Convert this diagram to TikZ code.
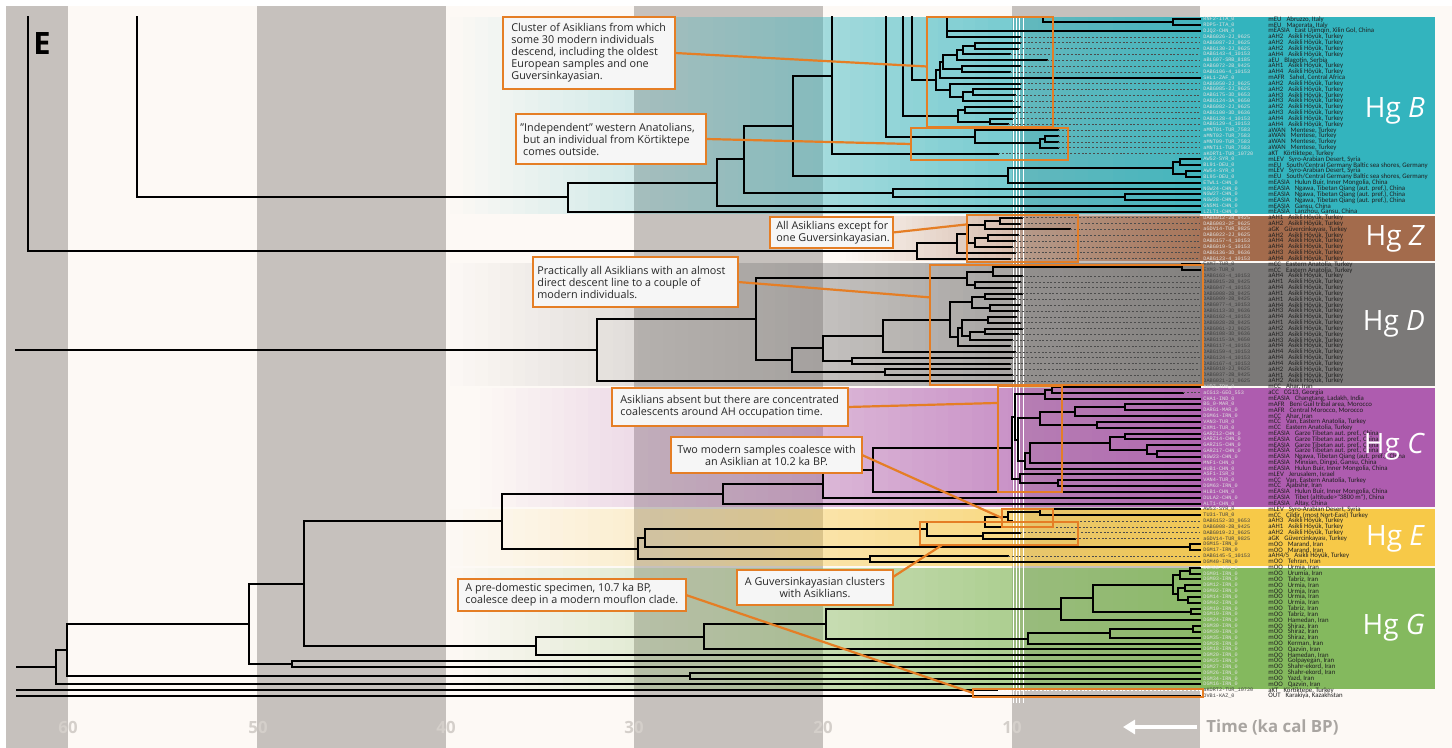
\documentclass[tikz,border=0pt]{standalone}
\usepackage{fontspec}
\setmainfont{Open Sans}
\newfontfamily\labfont{Carlito}
\newfontfamily\idfont{Liberation Mono}
\usetikzlibrary{calc,arrows.meta}

\definecolor{paper}{HTML}{FDF9F5}
\definecolor{stripe}{HTML}{C6C1BD}
\definecolor{bandB}{HTML}{33B4BE}
\definecolor{bandZ}{HTML}{A36B4C}
\definecolor{bandD}{HTML}{7B7978}
\definecolor{bandC}{HTML}{AE5CAF}
\definecolor{bandE}{HTML}{F7C948}
\definecolor{bandG}{HTML}{84B95E}
\definecolor{callorange}{HTML}{E57E25}
\definecolor{callfill}{HTML}{F6F6F6}
\definecolor{axisgray}{HTML}{A9A5A1}
\definecolor{ticklight}{HTML}{D4CFCA}

% a haplogroup band: translucent ramp from x=#2 to the tip line, solid behind the labels
\newcommand\bandfill[4]{%
  \pgfmathsetmacro\bstep{(1200-#2)/60}%
  \foreach \bi in {0,...,59}{%
    \pgfmathsetmacro\bxa{#2+\bstep*\bi}%
    \pgfmathsetmacro\bxb{#2+\bstep*(\bi+1)}%
    \pgfmathsetmacro\bop{(\bi+0.5)/60*0.88}%
    \fill[#1, fill opacity=\bop] (\bxa,#3) rectangle (\bxb,#4);}%
  \fill[#1] (1200,#3) rectangle (1435,#4);}

% branch helpers (x in px, second argument is the row)
\newcommand\vbr[3]{\draw[br] (#1,#2) -- (#1,#3);}
\newcommand\hbr[3]{\draw[br] (#1,#2) -- (#3,#2);}
\newcommand\modtip[2]{\draw[br] (#1,#2) -- (1200,#2);}
\newcommand\anctip[3]{\draw[br] (#1,#2) -- (#3,#2);\draw[dt] (#3,#2) -- (1200,#2);}
\newcommand\AHloc{Asikli Höyük, Turkey}

\tikzset{
  br/.style={line width=1pt, line cap=rect, black},
  dt/.style={line width=0.45pt, black!70, dash pattern=on 1pt off 0.9pt},
  dtw/.style={line width=0.6pt, white, dash pattern=on 1pt off 0.9pt},
  idl/.style={anchor=west, inner sep=0pt, font=\idfont\fontsize{2.6}{2.9}\selectfont},
  locl/.style={anchor=west, inner sep=0pt, text=black!88, font=\labfont\fontsize{3.4}{3.6}\selectfont},
  hglab/.style={anchor=east, text=white, font=\fontsize{14}{16}\selectfont},
  clbox/.style={draw=callorange, line width=1.1pt, inner sep=0pt, outer sep=0pt},
  callout/.style={draw=callorange, line width=1.1pt, fill=callfill, inner sep=0pt, outer sep=0pt},
  calltext/.style={inner sep=0pt, text=black!85, font=\fontsize{5.4}{6}\selectfont},
  link/.style={callorange, line width=1.1pt},
  tick/.style={text=ticklight, font=\bfseries\fontsize{8.4}{10}\selectfont},
}

\begin{document}
\begin{tikzpicture}[x=0.5pt,y=-0.5pt]
\useasboundingbox (0,0) rectangle (1452,748);
\fill[white] (0,0) rectangle (1452,748);
\fill[paper] (6,6) rectangle (1452,748);

% time stripes (10 ka each)
\foreach \xa/\xb in {6/68,257/446,634/823,1012/1200}
  \fill[stripe] (\xa,6) rectangle (\xb,748);

% haplogroup bands
\bandfill{bandB}{450}{17}{214}
\bandfill{bandZ}{840}{216}{261}
\bandfill{bandD}{450}{263}{386}
\bandfill{bandC}{480}{388}{507.5}
\bandfill{bandE}{450}{509.5}{566}
\bandfill{bandG}{450}{568}{689}

% occupation-time markers
\foreach \wx in {1013.5,1016.5,1019.5,1023}
  \draw[white, line width=0.45pt] (\wx,17) -- (\wx,703);

\begin{scope}[yshift=-9.75pt, y=-2.9165pt]
% ---------------- Hg B ----------------
\vbr{1173}{0}{1}\modtip{1173}{0}\modtip{1173}{1}
\draw[br] (1043,-0.43) |- (1173,0.5);
\vbr{947}{-0.43}{3}\modtip{947}{2}\anctip{947}{3}{1020}
\vbr{975}{4}{5}\anctip{975}{4}{1020}\anctip{975}{5}{1018}
\vbr{963}{4.5}{6}\hbr{963}{4.5}{975}\anctip{963}{6}{1010}
\vbr{957}{5.25}{7}\hbr{957}{5.25}{963}\anctip{957}{7}{1047}
\vbr{962}{8}{9}\anctip{962}{8}{1020}\anctip{962}{9}{1010}
\vbr{943}{6.125}{8.5}\hbr{943}{6.125}{957}\hbr{943}{8.5}{962}
\vbr{940}{7.31}{10}\hbr{940}{7.31}{943}\modtip{940}{10}
\vbr{973}{12}{13}\anctip{973}{12}{1020}\anctip{973}{13}{1015}
\vbr{963}{12.5}{14}\hbr{963}{12.5}{973}\anctip{963}{14}{1012}
\vbr{950}{11}{13.25}\anctip{950}{11}{1020}\hbr{950}{13.25}{963}
\vbr{936}{8.66}{12.125}\hbr{936}{8.66}{940}\hbr{936}{12.125}{950}
\vbr{912}{-0.43}{10.39}\hbr{912}{10.39}{936}
\vbr{965}{15}{16}\anctip{965}{15}{1020}\anctip{965}{16}{1015}
\vbr{990}{17}{18}\anctip{990}{17}{1012}\anctip{990}{18}{1008}
\vbr{958}{15.5}{17.5}\hbr{958}{15.5}{965}\hbr{958}{17.5}{990}
\vbr{903}{-0.43}{16.5}\hbr{903}{16.5}{958}
\vbr{1045}{20}{21}\anctip{1045}{20}{1058}\anctip{1045}{21}{1058}
\vbr{1040}{20.5}{22}\hbr{1040}{20.5}{1045}\anctip{1040}{22}{1058}
\vbr{975}{19}{21.25}\anctip{975}{19}{1058}\hbr{975}{21.25}{1040}
\vbr{886}{-0.43}{20.125}\hbr{886}{20.125}{975}
\vbr{832}{-0.43}{23}\anctip{832}{23}{998}
\vbr{1180}{24}{25}\modtip{1180}{24}\modtip{1180}{25}
\vbr{1186}{26}{27}\modtip{1186}{26}\modtip{1186}{27}
\vbr{1173}{24.5}{26.5}\hbr{1173}{24.5}{1180}\hbr{1173}{26.5}{1186}
\vbr{1008}{25.5}{28}\hbr{1008}{25.5}{1173}\modtip{1008}{28}
\vbr{793}{9.69}{26.75}\hbr{793}{9.69}{832}\hbr{793}{26.75}{1008}
\vbr{1125}{30}{31}\modtip{1125}{30}\modtip{1125}{31}
\vbr{893}{29}{30.5}\modtip{893}{29}\hbr{893}{30.5}{1125}
\vbr{744}{18.22}{29.75}\hbr{744}{18.22}{793}\hbr{744}{29.75}{893}
\vbr{717}{23.98}{32}\hbr{717}{23.98}{744}\modtip{717}{32}
\vbr{568}{27.99}{33}\hbr{568}{27.99}{717}\modtip{568}{33}
\vbr{137}{-0.43}{30.5}\hbr{137}{30.5}{568}
% ---------------- Hg Z ----------------
\vbr{1000}{34}{35}\anctip{1000}{34}{1022}\anctip{1000}{35}{1020}
\vbr{985}{34.5}{36}\hbr{985}{34.5}{1000}\anctip{985}{36}{1070}
\vbr{988}{37}{38}\anctip{988}{37}{1018}\anctip{988}{38}{1015}
\vbr{975}{37.5}{39}\hbr{975}{37.5}{988}\anctip{975}{39}{1012}
\vbr{968}{35.25}{38.25}\hbr{968}{35.25}{985}\hbr{968}{38.25}{975}
\vbr{957}{36.75}{40}\hbr{957}{36.75}{968}\anctip{957}{40}{1015}
\vbr{917}{38.375}{41}\hbr{917}{38.375}{957}\anctip{917}{41}{1010}
\vbr{28}{-0.43}{39.69}\hbr{28}{39.69}{917}
% ---------------- Hg D ----------------
\vbr{1182}{42}{43}\modtip{1182}{42}\modtip{1182}{43}
\vbr{993}{42.5}{44}\hbr{993}{42.5}{1182}\anctip{993}{44}{1022}
\vbr{975}{45}{46}\anctip{975}{45}{1020}\anctip{975}{46}{1016}
\vbr{967}{43.25}{45.5}\hbr{967}{43.25}{993}\hbr{967}{45.5}{975}
\vbr{985}{47}{48}\anctip{985}{47}{1022}\anctip{985}{48}{1015}
\vbr{990}{49}{50}\anctip{990}{49}{1020}\anctip{990}{50}{1018}
\vbr{972}{47.5}{49.5}\hbr{972}{47.5}{985}\hbr{972}{49.5}{990}
\vbr{988}{51}{52}\anctip{988}{51}{1016}\anctip{988}{52}{1020}
\vbr{985}{53}{54}\anctip{985}{53}{1022}\anctip{985}{54}{1018}
\vbr{970}{53.5}{55}\hbr{970}{53.5}{985}\anctip{970}{55}{1012}
\vbr{962}{51.5}{54.25}\hbr{962}{51.5}{988}\hbr{962}{54.25}{970}
\vbr{958}{52.875}{56}\hbr{958}{52.875}{962}\anctip{958}{56}{1010}
\vbr{950}{48.5}{54.44}\hbr{950}{48.5}{972}\hbr{950}{54.44}{958}
\vbr{883}{51.47}{57}\hbr{883}{51.47}{950}\anctip{883}{57}{1015}
\vbr{852}{58}{59}\anctip{852}{58}{1012}\anctip{852}{59}{1010}
\vbr{823}{54.23}{58.5}\hbr{823}{54.23}{883}\hbr{823}{58.5}{852}
\vbr{885}{60}{61}\anctip{885}{60}{1010}\anctip{885}{61}{1012}
\vbr{792}{56.37}{60.5}\hbr{792}{56.37}{823}\hbr{792}{60.5}{885}
\vbr{756}{44.375}{58.43}\hbr{756}{44.375}{967}\hbr{756}{58.43}{792}
\vbr{597}{51.4}{62}\hbr{597}{51.4}{756}\anctip{597}{62}{1014}
\hbr{16}{56.7}{597}
% ---------------- Hg C ----------------
\vbr{1052}{63}{64}\modtip{1052}{63}\anctip{1052}{64}{1183}
\vbr{1045}{63.5}{65}\hbr{1045}{63.5}{1052}\modtip{1045}{65}
\vbr{1125}{66}{67}\modtip{1125}{66}\modtip{1125}{67}
\vbr{1075}{66.5}{68}\hbr{1075}{66.5}{1125}\modtip{1075}{68}
\vbr{1097}{69}{70}\modtip{1097}{69}\modtip{1097}{70}
\vbr{1040}{67.25}{69.5}\hbr{1040}{67.25}{1075}\hbr{1040}{69.5}{1097}
\vbr{1125}{71}{72}\modtip{1125}{71}\modtip{1125}{72}
\vbr{1157}{74}{75}\modtip{1157}{74}\modtip{1157}{75}
\vbr{1147}{73}{74.5}\modtip{1147}{73}\hbr{1147}{74.5}{1157}
\vbr{1110}{71.5}{73.75}\hbr{1110}{71.5}{1125}\hbr{1110}{73.75}{1147}
\vbr{1030}{72.625}{76}\hbr{1030}{72.625}{1110}\modtip{1030}{76}
\vbr{1025}{74.31}{77}\hbr{1025}{74.31}{1030}\modtip{1025}{77}
\vbr{1018}{68.375}{75.66}\hbr{1018}{68.375}{1040}\hbr{1018}{75.66}{1025}
\vbr{1015}{64.25}{72.02}\hbr{1015}{64.25}{1045}\hbr{1015}{72.02}{1018}
\vbr{1058}{79}{80}\modtip{1058}{79}\modtip{1058}{80}
\vbr{1020}{78}{79.5}\modtip{1020}{78}\hbr{1020}{79.5}{1058}
\vbr{1012}{68.13}{78.75}\hbr{1012}{68.13}{1015}\hbr{1012}{78.75}{1020}
\vbr{873}{73.44}{81}\hbr{873}{73.44}{1012}\modtip{873}{81}
\vbr{823}{77.22}{82}\hbr{823}{77.22}{873}\modtip{823}{82}
\vbr{723}{79.61}{83}\hbr{723}{79.61}{823}\modtip{723}{83}
% ---------------- Hg E ----------------
\vbr{1040}{84}{85}\modtip{1040}{84}\modtip{1040}{85}
\vbr{1008}{84.5}{86}\hbr{1008}{84.5}{1040}\anctip{1008}{86}{1012}
\vbr{985}{85.25}{87}\hbr{985}{85.25}{1008}\anctip{985}{87}{1018}
\vbr{983}{88}{89}\anctip{983}{88}{1020}\anctip{983}{89}{1075}
\vbr{927}{86.125}{88.5}\hbr{927}{86.125}{985}\hbr{927}{88.5}{983}
\vbr{1190}{90}{91}\modtip{1190}{90}\modtip{1190}{91}
\vbr{645}{87.31}{90.5}\hbr{645}{87.31}{927}\hbr{645}{90.5}{1190}
\vbr{870}{92}{93}\anctip{870}{92}{1008}\modtip{870}{93}
\vbr{638}{88.9}{92.5}\hbr{638}{88.9}{645}\hbr{638}{92.5}{870}
\vbr{502}{81.3}{90.7}\hbr{502}{81.3}{723}\hbr{502}{90.7}{638}
% ---------------- Hg G ----------------
\vbr{1190}{94}{95}\modtip{1190}{94}\modtip{1190}{95}
\vbr{1180}{94.5}{96}\hbr{1180}{94.5}{1190}\modtip{1180}{96}
\vbr{1185}{97}{98}\modtip{1185}{97}\modtip{1185}{98}
\vbr{1188}{99}{100}\modtip{1188}{99}\modtip{1188}{100}
\vbr{1178}{97.5}{99.5}\hbr{1178}{97.5}{1185}\hbr{1178}{99.5}{1188}
\vbr{1173}{95.25}{98.5}\hbr{1173}{95.25}{1180}\hbr{1173}{98.5}{1178}
\vbr{1191}{101}{102}\modtip{1191}{101}\modtip{1191}{102}
\vbr{1093}{96.875}{101.5}\hbr{1093}{96.875}{1173}\hbr{1093}{101.5}{1191}
\vbr{1061}{99.19}{103}\hbr{1061}{99.19}{1093}\modtip{1061}{103}
\vbr{1193}{104}{105}\modtip{1193}{104}\modtip{1193}{105}
\vbr{1110}{104.5}{106}\hbr{1110}{104.5}{1193}\modtip{1110}{106}
\vbr{1028}{105.25}{107}\hbr{1028}{105.25}{1110}\modtip{1028}{107}
\vbr{826}{101.09}{106.125}\hbr{826}{101.09}{1061}\hbr{826}{106.125}{1028}
\vbr{704}{103.6}{108}\hbr{704}{103.6}{826}\modtip{704}{108}
\vbr{536}{105.8}{109}\hbr{536}{105.8}{704}\modtip{536}{109}
\vbr{304}{86}{107.4}\hbr{304}{86}{502}\hbr{304}{107.4}{536}
\vbr{292}{110}{111}\modtip{292}{110}\modtip{292}{111}
\vbr{249}{96.7}{110.5}\hbr{249}{96.7}{304}\hbr{249}{110.5}{292}
\vbr{690}{112}{113}\modtip{690}{112}\modtip{690}{113}
\vbr{67}{103.6}{112.5}\hbr{67}{103.6}{249}\hbr{67}{112.5}{690}
\vbr{56}{108.05}{114}\hbr{56}{108.05}{67}\modtip{56}{114}
\hbr{17}{111.03}{56}
% ---------------- outgroup ----------------
\draw[br] (17,115) -- (998,115);\draw[dtw] (998,115) -- (1200,115);
\modtip{17}{116}

% ---------------- sample and origin labels ----------------
\foreach \rw/\sid/\scode/\splace in {
 0/RNF2-ITA\_0/mEU/{Abruzzo, Italy},
 1/RDP5-ITA\_0/mEU/{Macerata, Italy},
 2/DJQ2-CHN\_0/mEASIA/{East Ujimqin, Xilin Gol, China},
 3/DABG026-2J\_9625/aAH2/\AHloc,
 4/DABG087-2J\_9625/aAH2/\AHloc,
 5/DABG130-2J\_9625/aAH2/\AHloc,
 6/DABG143-4\_10153/aAH4/\AHloc,
 7/aBLG07-SRB\_8185/aEU/{Blagotin, Serbia},
 8/DABG072-2B\_9425/aAH1/\AHloc,
 9/DABG106-4\_10153/aAH4/\AHloc,
 10/SHL1-ZAF\_0/mAFR/{Sahel, Central Africa},
 11/DABG050-2J\_9625/aAH2/\AHloc,
 12/DABG085-2J\_9625/aAH2/\AHloc,
 13/DABG175-3D\_9653/aAH3/\AHloc,
 14/DABG124-3A\_9650/aAH3/\AHloc,
 15/DABG082-2J\_9625/aAH2/\AHloc,
 16/DABG100-3D\_9636/aAH3/\AHloc,
 17/DABG128-4\_10153/aAH4/\AHloc,
 18/DABG129-4\_10153/aAH4/\AHloc,
 19/aMNT01-TUR\_7583/aWAN/{Mentese, Turkey},
 20/aMNT02-TUR\_7583/aWAN/{Mentese, Turkey},
 21/aMNT09-TUR\_7583/aWAN/{Mentese, Turkey},
 22/aMNT11-TUR\_7583/aWAN/{Mentese, Turkey},
 23/aKORT1-TUR\_10720/aKT/{Körtiktepe, Turkey},
 24/AW52-SYR\_0/mLEV/{Syro-Arabian Desert, Syria},
 25/BL91-DEU\_0/mEU/{South/Central Germany Baltic sea shores, Germany},
 26/AW54-SYR\_0/mLEV/{Syro-Arabian Desert, Syria},
 27/BL95-DEU\_0/mEU/{South/Central Germany Baltic sea shores, Germany},
 28/ETWL1-CHN\_0/mEASIA/{Hulun Buir, Inner Mongolia, China},
 29/NGW24-CHN\_0/mEASIA/{Ngawa, Tibetan Qiang (aut. pref.), China},
 30/NGW27-CHN\_0/mEASIA/{Ngawa, Tibetan Qiang (aut. pref.), China},
 31/NGW28-CHN\_0/mEASIA/{Ngawa, Tibetan Qiang (aut. pref.), China},
 32/GNSM1-CHN\_0/mEASIA/{Gansu, China},
 33/LZLT1-CHN\_0/mEASIA/{Lanzhou, Gansu, China},
 34/DABG012-2B\_9425/aAH1/\AHloc,
 35/DABG003-2F\_9625/aAH2/\AHloc,
 36/aGDV14-TUR\_9825/aGK/{Güvercinkayası, Turkey},
 37/DABG022-2J\_9625/aAH2/\AHloc,
 38/DABG157-4\_10153/aAH4/\AHloc,
 39/DABG019-5\_10153/aAH4/\AHloc,
 40/DABG136-3D\_9636/aAH3/\AHloc,
 41/DABG123-4\_10153/aAH4/\AHloc,
 63/AHR7-IRN\_0/mCC/{Ahar, Iran},
 64/aCG13-GEO\_553/aCC/{CG13, Georgia},
 65/CHA1-IND\_0/mEASIA/{Changtang, Ladakh, India},
 66/BG\_0-MAR\_0/mAFR/{Beni Guil tribal area, Morocco},
 67/DARG1-MAR\_0/mAFR/{Central Morocco, Morocco},
 68/DGM61-IRN\_0/mCC/{Ahar, Iran},
 69/VAN3-TUR\_0/mCC/{Van, Eastern Anatolia, Turkey},
 70/EXM1-TUR\_0/mCC/{Eastern Anatolia, Turkey},
 71/GARZ12-CHN\_0/mEASIA/{Garze Tibetan aut. pref., China},
 72/GARZ14-CHN\_0/mEASIA/{Garze Tibetan aut. pref., China},
 73/GARZ15-CHN\_0/mEASIA/{Garze Tibetan aut. pref., China},
 74/GARZ17-CHN\_0/mEASIA/{Garze Tibetan aut. pref., China},
 75/NGW23-CHN\_0/mEASIA/{Ngawa, Tibetan Qiang (aut. pref.), China},
 76/MNF1-CHN\_0/mEASIA/{Minxian, Dingxi, Gansu, China},
 77/HUB1-CHN\_0/mEASIA/{Hulun Buir, Inner Mongolia, China},
 78/ASF1-ISR\_0/mLEV/{Jerusalem, Israel},
 79/VAN4-TUR\_0/mCC/{Van, Eastern Anatolia, Turkey},
 80/DGM63-IRN\_0/mCC/{Ajabshir, Iran},
 81/HLB1-CHN\_0/mEASIA/{Hulun Buir, Inner Mongolia, China},
 82/DULA2-CHN\_0/mEASIA/{Tibet (altitude>"3800 m"), China},
 83/ALT1-CHN\_0/mEASIA/{Altay, China}}
{
 \node[idl, text=white!88!black] (id\rw) at (1203,\rw) {\sid};
 \node[locl] (loc\rw) at (1268,\rw) {\scode\hspace{2.5pt}\splace};
}
\foreach \rw/\sid/\scode/\splace in {
 42/EXM7-TUR\_0/mCC/{Eastern Anatolia, Turkey},
 43/EXM3-TUR\_0/mCC/{Eastern Anatolia, Turkey},
 44/DABG163-4\_10153/aAH4/\AHloc,
 45/DABG015-2B\_9425/aAH1/\AHloc,
 46/DABG047-4\_10153/aAH4/\AHloc,
 47/DABG008-2B\_9425/aAH1/\AHloc,
 48/DABG009-2B\_9425/aAH1/\AHloc,
 49/DABG077-4\_10153/aAH4/\AHloc,
 50/DABG113-3D\_9636/aAH3/\AHloc,
 51/DABG162-4\_10153/aAH4/\AHloc,
 52/DABG028-2B\_9425/aAH1/\AHloc,
 53/DABG061-2J\_9625/aAH2/\AHloc,
 54/DABG108-3D\_9636/aAH3/\AHloc,
 55/DABG115-3A\_9650/aAH3/\AHloc,
 56/DABG117-4\_10153/aAH4/\AHloc,
 57/DABG159-4\_10153/aAH4/\AHloc,
 58/DABG124-4\_10153/aAH4/\AHloc,
 59/DABG167-4\_10153/aAH4/\AHloc,
 60/DABG018-2J\_9625/aAH2/\AHloc,
 61/DABG037-2B\_9425/aAH1/\AHloc,
 62/DABG021-2J\_9625/aAH2/\AHloc,
 84/AW53-SYR\_0/mLEV/{Syro-Arabian Desert, Syria},
 85/TU31-TUR\_0/mCC/{Çildir, (most Nort-East) Turkey},
 86/DABG152-3D\_9653/aAH3/\AHloc,
 87/DABG008-2B\_9425/aAH1/\AHloc,
 88/DABG019-2J\_9625/aAH2/\AHloc,
 89/aGDV14-TUR\_9825/aGK/{Güvercinkayası, Turkey},
 90/DGM15-IRN\_0/mOO/{Marand, Iran},
 91/DGM17-IRN\_0/mOO/{Marand, Iran},
 92/DABG145-5\_10153/{aAH4/5}/\AHloc,
 93/DGM40-IRN\_0/mOO/{Tehran, Iran},
 115/aKORT2-TUR\_10720/aKT/{Körtiktepe, Turkey},
 116/OVB1-KAZ\_0/OUT/{Karakiya, Kazakhstan}}
{
 \node[idl, text=black!75] (id\rw) at (1203,\rw) {\sid};
 \node[locl] (loc\rw) at (1268,\rw) {\scode\hspace{2.5pt}\splace};
}
\foreach \rw/\sid/\splace in {
 94/DGM08/Urmia, 95/DGM01/Urumia, 96/DGM03/Tabriz, 97/DGM12/Urmia,
 98/DGM02/Urmia, 99/DGM14/Urmia, 100/DGM42/Urmia, 101/DGM10/Tabriz,
 102/DGM19/Tabriz, 103/DGM24/Hamedan, 104/DGM30/Shiraz, 105/DGM39/Shiraz,
 106/DGM35/Shiraz, 107/DGM28/Kerman, 108/DGM18/Qazvin, 109/DGM20/Hamedan,
 110/DGM25/Golpayegan, 111/DGM27/Shahr-ekord, 112/DGM26/Shahr-ekord,
 113/DGM34/Yazd, 114/DGM16/Qazvin}
{
 \node[idl, text=white!88!black] (id\rw) at (1203,\rw) {\sid-IRN\_0};
 \node[locl] (loc\rw) at (1268,\rw) {mOO\hspace{2.5pt}\splace, Iran};
}
\end{scope}

% haplogroup names
\node[hglab] (hgB) at (1432,111) {Hg \textit{B}};
\node[hglab] (hgZ) at (1432,239) {Hg \textit{Z}};
\node[hglab] (hgD) at (1432,324) {Hg \textit{D}};
\node[hglab] (hgC) at (1432,447) {Hg \textit{C}};
\node[hglab] (hgE) at (1432,539) {Hg \textit{E}};
\node[hglab] (hgG) at (1432,628) {Hg \textit{G}};

% highlighted clusters
\node[clbox, minimum width=63pt,  minimum height=55pt]   (asik)   at (990,72) {};
\node[clbox, minimum width=78.5pt,minimum height=16pt]   (indep)  at (989.5,144) {};
\node[clbox, minimum width=55.5pt,minimum height=23.5pt] (zbox)   at (1022.5,238.5) {};
\node[clbox, minimum width=136.5pt,minimum height=60pt]  (dbox)   at (1066.5,325) {};
\node[clbox, minimum width=32pt,  minimum height=53pt]   (cbox)   at (1030,439) {};
\node[clbox, minimum width=25.5pt,minimum height=9pt]    (twobox) at (1027.5,518) {};
\node[clbox, minimum width=79pt,  minimum height=11.5pt] (guv)    at (999,533.5) {};
\node[clbox, minimum width=115pt, minimum height=4pt]    (predom) at (1088,693) {};

% callout boxes
\node[callout, minimum width=86pt,  minimum height=36pt] (c1) at (589,53) {};
\node[callout, minimum width=95pt,  minimum height=25pt] (c2) at (611,139) {};
\node[callout, minimum width=61.5pt,minimum height=15.5pt] (c3) at (831.5,232.5) {};
\node[callout, minimum width=102.5pt,minimum height=25pt] (c4) at (635.5,282) {};
\node[callout, minimum width=118pt, minimum height=19pt] (c5) at (730,407) {};
\node[callout, minimum width=95.5pt,minimum height=18pt] (c6) at (766.5,455) {};
\node[callout, minimum width=78pt,  minimum height=17.5pt] (c7) at (815,587.5) {};
\node[callout, minimum width=114pt, minimum height=16pt] (c8) at (572,595) {};

% leader lines
\draw[link] (c1.east) -- ($(asik.north west)!0.45!(asik.south west)$);
\draw[link] (c2.east) -- (indep.west);
\draw[link] (c3.east) -- ($(zbox.north west)!0.2!(zbox.south west)$);
\draw[link] (c4.east) -- ($(dbox.north west)!0.27!(dbox.south west)$);
\draw[link] (c5.east) -- ($(cbox.north west)!0.16!(cbox.south west)$);
\draw[link] (c6.east) -- (twobox.west);
\draw[link] ($(c7.north east)!0.4!(c7.east)$) -- ($(guv.south west)!0.14!(guv.south east)$);
\draw[link] (c8.east) -- (predom.west);

% callout texts
\node[calltext, anchor=west, align=left] (t1) at ($(c1.west)+(4pt,0)$)
  {Cluster of Asiklians from which\\some 30 modern individuals\\descend, including the oldest\\European samples and one\\Guversinkayasian.};
\node[calltext, anchor=west, align=left] (t2) at ($(c2.west)+(2pt,0)$)
  {"Independent" western Anatolians,\\\ but an individual from Körtiktepe\\\ comes outside.};
\node[calltext, anchor=west, align=left] (t3) at ($(c3.west)+(3pt,0)$)
  {All Asiklians except for\\one Guversinkayasian.};
\node[calltext, anchor=west, align=left] (t4) at ($(c4.west)+(2pt,0)$)
  {Practically all Asiklians with an almost\\direct descent line to a couple of\\modern individuals.};
\node[calltext, anchor=west, align=left] (t5) at ($(c5.west)+(4pt,0)$)
  {Asiklians absent but there are concentrated\\coalescents around AH occupation time.};
\node[calltext, align=center] (t6) at (c6) {Two modern samples coalesce with\\an Asiklian at 10.2 ka BP.};
\node[calltext, align=center] (t7) at (c7) {A Guversinkayasian clusters\\with Asiklians.};
\node[calltext, anchor=west, align=left] (t8) at ($(c8.west)+(3.5pt,0)$)
  {A pre-domestic specimen, 10.7 ka BP,\\coalesce deep in a modern mouflon clade.};

% panel letter
\node[anchor=base west, inner sep=0pt, font=\bfseries\fontsize{15.4}{16}\selectfont] (panelE) at (33,55) {E};

% time axis
\foreach \tx/\tl in {68/60,258/50,446/40,634/30,823/20,1012/10}
  \node[tick] (tk\tl) at (\tx,727) {\tl};
\coordinate (arrtail) at (1197,727);
\coordinate (arrhead) at (1123,727);
\draw[white, line width=1.6pt, -{Triangle[length=6pt,width=7pt]}] (arrtail) -- (arrhead);
\node[anchor=west, inner sep=0pt, text=axisgray, font=\bfseries\fontsize{8.4}{10}\selectfont] (tlabel) at (1206,727) {Time (ka cal BP)};
\end{tikzpicture}
\end{document}
